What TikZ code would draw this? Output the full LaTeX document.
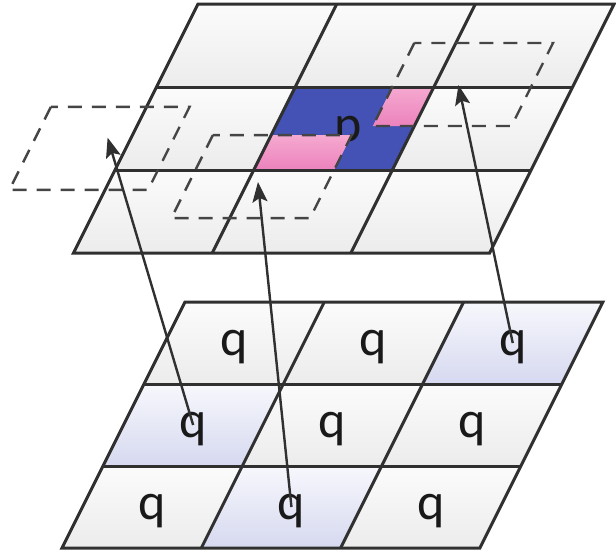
\documentclass[tikz,border=0pt]{standalone}
\usepackage{fontspec}
\setmainfont{Carlito}
\usepackage{xcolor}
\usepackage{tikz}
\usetikzlibrary{arrows.meta}
\definecolor{gridgray}{HTML}{303030}
\definecolor{cellshade}{HTML}{ECECEC}
\definecolor{convblue}{HTML}{4352B4}
\definecolor{convpink}{HTML}{EC82BC}
\definecolor{convpinklight}{HTML}{F5A9D0}
\definecolor{convlav}{HTML}{D6D9F0}
\tikzset{
  cell/.style={top color=#1!20,bottom color=#1},
  cell/.default=cellshade,
  pinkcell/.style={top color=convpinklight,bottom color=convpink},
  gridedge/.style={line width=3pt,draw=gridgray,line join=miter},
  window/.style={line width=2.4pt,draw=gridgray!90,dash pattern=on 14pt off 10pt},
  link/.style={-{Stealth[length=20pt,width=15pt,inset=4pt]},line width=2.4pt,draw=gridgray},
  letter/.style={inner sep=0pt,text depth=0pt,text=black!90,font=\fontsize{52}{52}\selectfont}
}

\begin{document}
\begin{tikzpicture}[x=1pt,y=-1pt]
\useasboundingbox (0,0) rectangle (616,555);
% upper map: output cell p and its three sampling windows
\begin{scope}[shift={(198,4)},x=138.7pt,y=-83pt,xslant=0.5]
  \foreach \c in {0,1,2}
    \foreach \r in {0,1,2}
      \shade[cell] (\c,\r) rectangle ++(1,1);
  \fill[convblue] (1,1) rectangle (2,2);
  \node[letter] (p) at (1.53,1.5) {p};
  \shade[pinkcell] (1,1.58) rectangle (1.58,2);
  \shade[pinkcell] (1.7,1) rectangle (2,1.47);
  \foreach \i in {1,2} {
    \draw[gridedge] (\i,0) -- (\i,3);
    \draw[gridedge] (0,\i) -- (3,\i);
  }
  \draw[gridedge] (0,0) rectangle (3,3);
  \draw[window] (-0.69,1.24) rectangle ++(1,1);
  \draw[window] (0.58,1.58) rectangle ++(1,1);
  \draw[window] (1.7,0.47) rectangle ++(1,1);
  \coordinate (lwin) at (-0.17,1.61);
  \coordinate (mwin) at (1.074,2.145);
  \coordinate (rwin) at (2.17,0.976);
\end{scope}
% lower map: input cells q
\begin{scope}[shift={(185,302)},x=139.3pt,y=-82pt,xslant=0.5]
  \foreach \c/\r/\tone in {0/0/cellshade,1/0/cellshade,2/0/convlav,
                           0/1/convlav,1/1/cellshade,2/1/cellshade,
                           0/2/cellshade,1/2/convlav,2/2/cellshade} {
    \shade[cell=\tone] (\c,\r) rectangle ++(1,1);
    \node[letter] (q\r\c) at (\c+0.5,\r+0.5) {q};
  }
  \foreach \i in {1,2} {
    \draw[gridedge] (\i,0) -- (\i,3);
    \draw[gridedge] (0,\i) -- (3,\i);
  }
  \draw[gridedge] (0,0) rectangle (3,3);
\end{scope}
\draw[link] (q10.center) -- (lwin);
\draw[link] (q21.center) -- (mwin);
\draw[link] (q02.center) -- (rwin);
\end{tikzpicture}
\end{document}
